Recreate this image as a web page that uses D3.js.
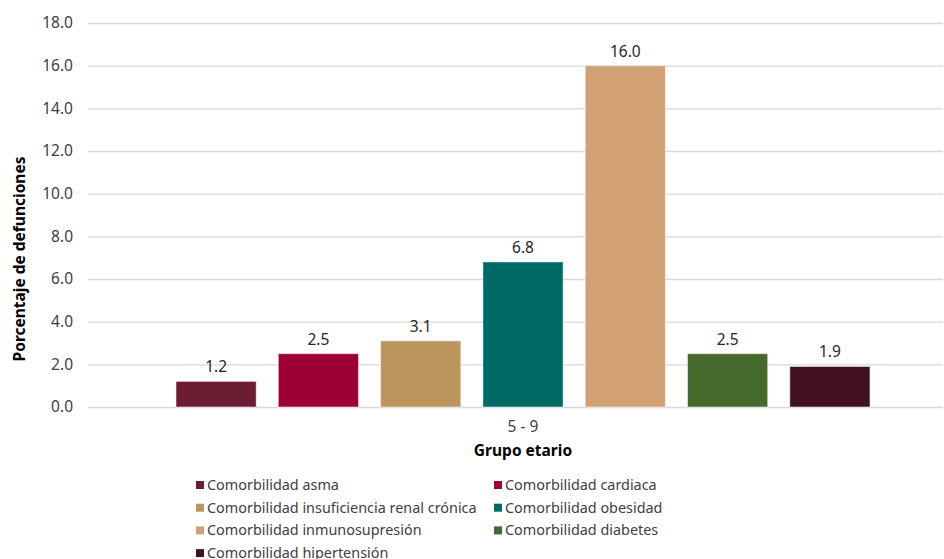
<!DOCTYPE html>
<html><head><meta charset="utf-8">
<script src="https://cdn.jsdelivr.net/npm/d3@7"></script>
<style>body{margin:0;background:#fff}svg{display:block;font-family:"Noto Sans",sans-serif}</style>
</head><body><svg id="c" width="944" height="559"></svg>
<script>
const groups = ["5 - 9"];
const series = ["Comorbilidad asma","Comorbilidad cardiaca","Comorbilidad insuficiencia renal crónica","Comorbilidad obesidad","Comorbilidad inmunosupresión","Comorbilidad diabetes","Comorbilidad hipertensión"];
const values = [1.2, 2.5, 3.1, 6.8, 16.0, 2.5, 1.9];
const colors = ["#6c1d33","#9c0034","#bc955c","#006a66","#d2a173","#45692c","#42111f"];
const yTicks = [0,2,4,6,8,10,12,14,16,18];

const svg = d3.select("#c");
const plot = {left: 88, right: 943, top: 23, bottom: 407};
const groupPad = {left: 88, right: 73};

const y = d3.scaleLinear().domain([0,18]).range([plot.bottom, plot.top]);
const x0 = d3.scaleBand().domain(groups).range([plot.left + groupPad.left, plot.right - groupPad.right]).padding(0);
const x1 = d3.scaleBand().domain(series).range([0, x0.bandwidth()]).paddingInner(0.216).paddingOuter(0);

// gridlines
svg.append("g").selectAll("line").data(yTicks).join("line")
  .attr("x1", plot.left).attr("x2", plot.right)
  .attr("y1", d => y(d)+0.5).attr("y2", d => y(d)+0.5)
  .attr("stroke", "#d9d9d9").attr("stroke-width", 1.3);

// y axis labels
const yAxis = d3.axisLeft(y).tickValues(yTicks).tickFormat(d3.format(".1f")).tickSize(0).tickPadding(0);
const ga = svg.append("g").attr("transform", `translate(73,0)`).call(yAxis);
ga.select(".domain").remove();
ga.selectAll("text").attr("font-size", 15.5).attr("fill", "#404040").attr("font-family", '"Noto Sans",sans-serif');

// bars
const g = svg.append("g").attr("transform", `translate(${x0(groups[0])},0)`);
const data = series.map((s,i) => ({s, v: values[i], c: colors[i]}));
g.selectAll("rect").data(data).join("rect")
  .attr("x", d => x1(d.s)).attr("width", x1.bandwidth())
  .attr("y", d => y(d.v)).attr("height", d => y(0) - y(d.v))
  .attr("fill", d => d.c).attr("stroke", "#fff").attr("stroke-opacity", 0.5).attr("stroke-width", 1);
g.selectAll("text").data(data).join("text")
  .attr("x", d => x1(d.s) + x1.bandwidth()/2).attr("y", d => y(d.v) - 9)
  .attr("text-anchor", "middle").attr("font-size", 15.5).attr("fill", "#262626")
  .text(d => d3.format(".1f")(d.v));

// x axis label
svg.append("text").attr("x", x0(groups[0]) + x0.bandwidth()/2).attr("y", 432)
  .attr("text-anchor","middle").attr("font-size",15.5).attr("fill","#404040").text(groups[0]);
svg.append("text").attr("x", x0(groups[0]) + x0.bandwidth()/2).attr("y", 456)
  .attr("text-anchor","middle").attr("font-size",15.5).attr("font-weight","bold").attr("fill","#000").text("Grupo etario");
svg.append("text").attr("transform","translate(25,259) rotate(-90)")
  .attr("text-anchor","middle").attr("font-size",15.5).attr("font-weight","bold").attr("fill","#000").text("Porcentaje de defunciones");

// legend
const lg = svg.append("g");
const items = lg.selectAll("g").data(data).join("g")
  .attr("transform", (d,i) => `translate(${i%2===0 ? 196 : 494},${485 + Math.floor(i/2)*22.7})`);
items.append("rect").attr("x",0).attr("y",-4).attr("width",8).attr("height",8).attr("fill", d => d.c);
items.append("text").attr("x",11).attr("y",0).attr("dy","0.35em").attr("font-size",14.4).attr("fill","#404040").text(d => d.s);
</script></body></html>
